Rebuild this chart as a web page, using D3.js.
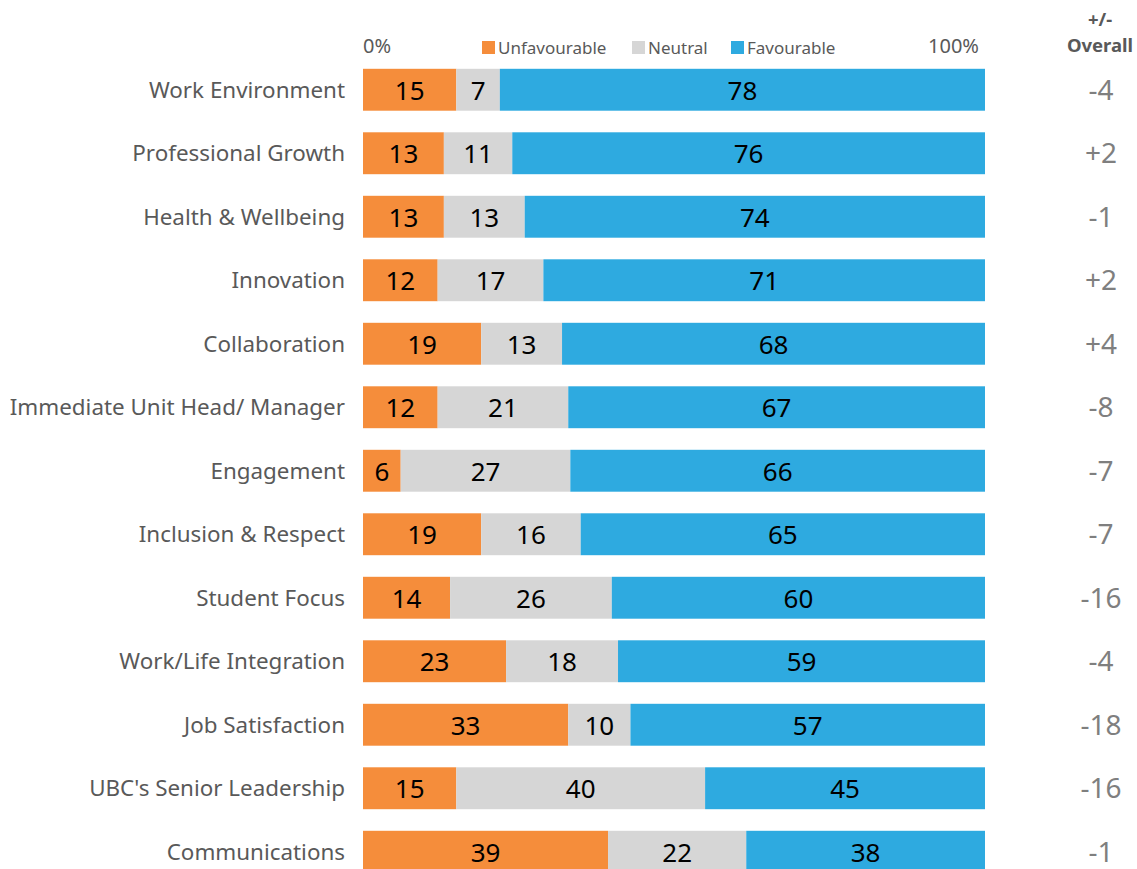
<!DOCTYPE html>
<html>
<head>
<meta charset="utf-8">
<script src="https://cdn.jsdelivr.net/npm/d3@7"></script>
<style>
  body { margin: 0; background: #fff; }
  text { font-family: "Noto Sans", "Open Sans", sans-serif; }
</style>
</head>
<body>
<div id="chart"></div>
<script>
var categories = ['Work Environment', 'Professional Growth', 'Health & Wellbeing', 'Innovation',
  'Collaboration', 'Immediate Unit Head/ Manager', 'Engagement', 'Inclusion & Respect',
  'Student Focus', 'Work/Life Integration', 'Job Satisfaction', "UBC's Senior Leadership", 'Communications'];
var unfavourable = [15, 13, 13, 12, 19, 12, 6, 19, 14, 23, 33, 15, 39];
var neutral = [7, 11, 13, 17, 13, 21, 27, 16, 26, 18, 10, 40, 22];
var favourable = [78, 76, 74, 71, 68, 67, 66, 65, 60, 59, 57, 45, 38];
var overallDiff = ['-4', '+2', '-1', '+2', '+4', '-8', '-7', '-7', '-16', '-4', '-18', '-16', '-1'];
var seriesNames = ['Unfavourable', 'Neutral', 'Favourable'];
var colors = ['#F58D3B', '#D6D6D6', '#2EAAE0'];

var width = 1137, height = 869;

var svg = d3.select('#chart')
  .append('svg')
  .attr('width', width)
  .attr('height', height);

var x = d3.scaleLinear().domain([0, 1]).range([363, 985]);
var y = d3.scaleBand()
  .domain(categories)
  .range([58, 883.5])
  .paddingInner(0.34)
  .paddingOuter(0.17);

var rows = categories.map(function(c, i) {
  var vals = [unfavourable[i], neutral[i], favourable[i]];
  var total = d3.sum(vals);
  var start = 0;
  return vals.map(function(v, k) {
    var seg = {cat: c, value: v, k: k, x0: start / total, x1: (start + v) / total};
    start += v;
    return seg;
  });
});

var rowG = svg.selectAll('g.row')
  .data(rows)
  .join('g')
  .attr('class', 'row');

rowG.selectAll('rect')
  .data(function(d) { return d; })
  .join('rect')
  .attr('x', function(d) { return x(d.x0); })
  .attr('width', function(d) { return x(d.x1) - x(d.x0); })
  .attr('y', function(d) { return y(d.cat); })
  .attr('height', y.bandwidth())
  .attr('fill', function(d) { return colors[d.k]; });

rowG.selectAll('text.val')
  .data(function(d) { return d; })
  .join('text')
  .attr('class', 'val')
  .attr('x', function(d) { return (x(d.x0) + x(d.x1)) / 2; })
  .attr('y', function(d) { return y(d.cat) + y.bandwidth() / 2 + 10; })
  .attr('text-anchor', 'middle')
  .style('font-size', '26px')
  .style('fill', '#000')
  .text(function(d) { return d.value; });

// category labels
svg.append('g')
  .selectAll('text')
  .data(categories)
  .join('text')
  .attr('x', 345)
  .attr('y', function(d) { return y(d) + y.bandwidth() / 2 + 8; })
  .attr('text-anchor', 'end')
  .style('font-size', '22.4px')
  .style('fill', '#595959')
  .text(function(d) { return d; });

// overall difference column
svg.append('g')
  .selectAll('text')
  .data(overallDiff)
  .join('text')
  .attr('x', 1101)
  .attr('y', function(d, i) { return y(categories[i]) + y.bandwidth() / 2 + 10; })
  .attr('text-anchor', 'middle')
  .style('font-size', '28px')
  .style('fill', '#7F7F7F')
  .text(function(d) { return d; });

var head = svg.append('g').attr('transform', 'translate(1100,0)');
head.append('text').attr('y', 26).attr('text-anchor', 'middle')
  .style('font-size', '18.5px').style('font-weight', 'bold').style('fill', '#595959').text('+/-');
head.append('text').attr('y', 52).attr('text-anchor', 'middle')
  .style('font-size', '18.5px').style('font-weight', 'bold').style('fill', '#595959').text('Overall');

// axis end labels
svg.append('text').attr('x', x(0)).attr('y', 53)
  .style('font-size', '20px').style('fill', '#595959').text('0%');
svg.append('text').attr('x', x(1) - 6).attr('y', 53).attr('text-anchor', 'end')
  .style('font-size', '20px').style('fill', '#595959').text('100%');

// legend
var legendX = [482, 632, 731];
var legend = svg.append('g')
  .selectAll('g')
  .data(seriesNames)
  .join('g')
  .attr('transform', function(d, i) { return 'translate(' + legendX[i] + ',41)'; });
legend.append('rect').attr('width', 13).attr('height', 13)
  .attr('fill', function(d, i) { return colors[i]; });
legend.append('text').attr('x', 16).attr('y', 13)
  .style('font-size', '17px').style('fill', '#595959')
  .text(function(d) { return d; });
</script>
</body>
</html>
